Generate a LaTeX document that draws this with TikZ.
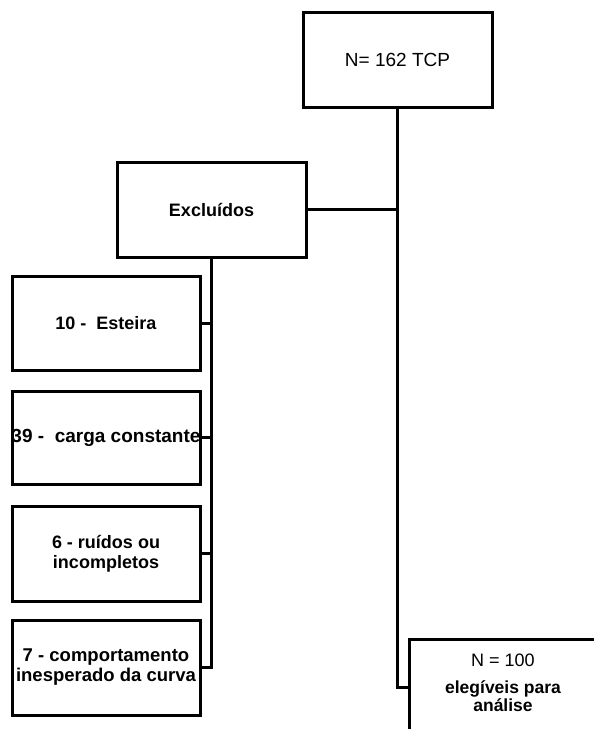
\documentclass[tikz,border=0pt]{standalone}
\usepackage{fontspec}
\setmainfont{Liberation Sans}
\begin{document}
\begin{tikzpicture}[x=1pt,y=-1pt,
  box/.style={draw=black,line width=3pt,fill=white,inner sep=0pt,align=center,font=\fontsize{18}{20}\selectfont},
  link/.style={draw=black,line width=3pt}]
\useasboundingbox (0,0) rectangle (594,729);
\node[box,minimum width=189pt,minimum height=95pt,font=\fontsize{19}{20}\selectfont] (top) at (397.5,59.5) {N= 162 TCP};
\node[box,minimum width=189pt,minimum height=95pt,font=\fontsize{18}{20}\selectfont\bfseries] (exc) at (211.5,209.5) {Excluídos};
\node[box,minimum width=188pt,minimum height=94pt,font=\fontsize{18}{20}\selectfont\bfseries] (b1) at (106,323) {10 -\ \ Esteira};
\node[box,minimum width=188pt,minimum height=93pt,font=\fontsize{19}{20}\selectfont\bfseries] (b2) at (106,437.5) {\makebox[0pt]{39 -\ \ carga constante}};
\node[box,minimum width=188pt,minimum height=95pt,font=\fontsize{18}{20}\selectfont\bfseries] (b3) at (106,553.5) {6 - ruídos ou\\incompletos};
\node[box,minimum width=188pt,minimum height=95pt,font=\fontsize{18.5}{20}\selectfont\bfseries] (b4) at (106,667.5) {7 - comportamento\\inesperado da curva};
\node[box,minimum width=190pt,minimum height=95pt,anchor=north west] (fin) at (408,638) {};
\node[font=\fontsize{18}{20}\selectfont,anchor=base] (n100) at (503,666) {N = 100};
\node[font=\fontsize{17.5}{18.5}\selectfont\bfseries,align=center,anchor=north] (eleg) at (503,677) {elegíveis para\\análise};
\coordinate (j1) at (top.south |- exc.east);
\coordinate (j2) at (top.south |- fin.west);
\coordinate (k4) at (exc.south |- b4.east);
\draw[link] (top.south) -- (j2) -- (fin.west);
\draw[link] (exc.east) -- (j1);
\draw[link] (exc.south) -- (k4) -- (b4.east);
\draw[link] (b1.east) -- (b1.east -| exc.south);
\draw[link] (b2.east) -- (b2.east -| exc.south);
\draw[link] (b3.east) -- (b3.east -| exc.south);
\end{tikzpicture}
\end{document}
